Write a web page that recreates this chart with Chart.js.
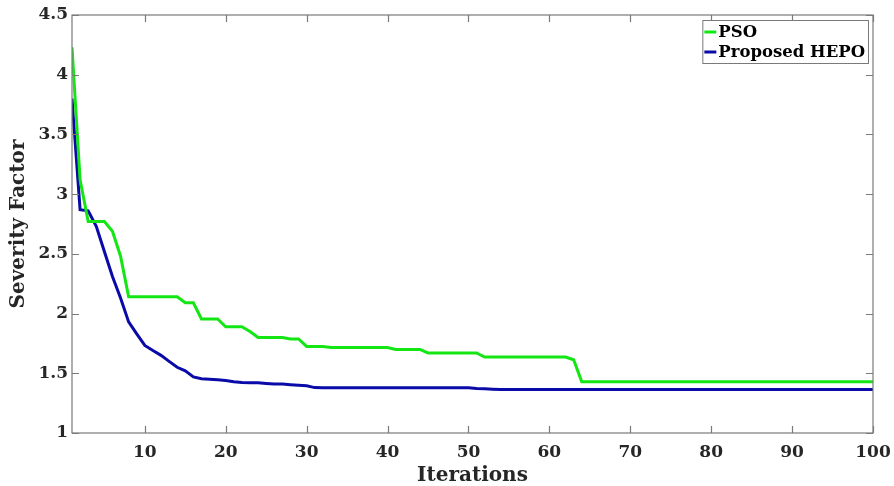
<!DOCTYPE html>
<html>
<head>
<meta charset="utf-8">
<title>Severity Factor vs Iterations</title>
<script src="https://cdn.jsdelivr.net/npm/chart.js@4/dist/chart.umd.min.js"></script>
<style>
  html, body { margin: 0; padding: 0; background: #fff; }
  #chart { display: block; }
</style>
</head>
<body>
<canvas id="chart" width="894" height="486"></canvas>
<script>
// iteration index on the x axis
const iterations = Array.from({ length: 100 }, (_, i) => i + 1);

const psoValues = [
  4.23, 3.12, 2.77, 2.77, 2.77, 2.69, 2.48, 2.14, 2.14, 2.14,
  2.14, 2.14, 2.14, 2.14, 2.09, 2.09, 1.955, 1.955, 1.955, 1.89,
  1.89, 1.89, 1.85, 1.80, 1.80, 1.80, 1.80, 1.787, 1.787, 1.725,
  1.725, 1.725, 1.716, 1.716, 1.716, 1.716, 1.716, 1.716, 1.716, 1.716,
  1.70, 1.70, 1.70, 1.70, 1.67, 1.67, 1.67, 1.67, 1.67, 1.67,
  1.67, 1.636, 1.636, 1.636, 1.636, 1.636, 1.636, 1.636, 1.636, 1.636,
  1.636, 1.636, 1.613, 1.43, 1.43, 1.43, 1.43, 1.43, 1.43, 1.43,
  1.43, 1.43, 1.43, 1.43, 1.43, 1.43, 1.43, 1.43, 1.43, 1.43,
  1.43, 1.43, 1.43, 1.43, 1.43, 1.43, 1.43, 1.43, 1.43, 1.43,
  1.43, 1.43, 1.43, 1.43, 1.43, 1.43, 1.43, 1.43, 1.43, 1.43
];

const hepoValues = [
  3.80, 2.87, 2.86, 2.73, 2.52, 2.31, 2.13, 1.93, 1.83, 1.733,
  1.69, 1.65, 1.60, 1.55, 1.52, 1.47, 1.455, 1.45, 1.445, 1.44,
  1.43, 1.423, 1.42, 1.42, 1.415, 1.41, 1.41, 1.405, 1.40, 1.395,
  1.38, 1.378, 1.378, 1.378, 1.378, 1.378, 1.378, 1.378, 1.378, 1.378,
  1.378, 1.378, 1.378, 1.378, 1.378, 1.378, 1.378, 1.378, 1.378, 1.378,
  1.372, 1.37, 1.367, 1.365, 1.365, 1.365, 1.365, 1.365, 1.365, 1.365,
  1.365, 1.365, 1.365, 1.365, 1.365, 1.365, 1.365, 1.365, 1.365, 1.365,
  1.365, 1.365, 1.365, 1.365, 1.365, 1.365, 1.365, 1.365, 1.365, 1.365,
  1.365, 1.365, 1.365, 1.365, 1.365, 1.365, 1.365, 1.365, 1.365, 1.365,
  1.365, 1.365, 1.365, 1.365, 1.365, 1.365, 1.365, 1.365, 1.365, 1.365
];

const seriesLabels = ['PSO', 'Proposed HEPO'];
const seriesColors = ['#14e614', '#0a0aa8'];

const xTicks = [10, 20, 30, 40, 50, 60, 70, 80, 90, 100];
const yTicks = [1, 1.5, 2, 2.5, 3, 3.5, 4, 4.5];

const FONT = '"DejaVu Serif", serif';
const TEXT_COLOR = '#262626';
const AXIS_COLOR = '#7a7a7a';

function toPoints(values) {
  return iterations.map((it, i) => ({ x: it, y: values[i] }));
}

// box round the axes with inward ticks on all four sides
const axesBox = {
  id: 'axesBox',
  afterDraw(chart) {
    const { ctx, chartArea: a, scales } = chart;
    const len = 7;
    ctx.save();
    ctx.strokeStyle = AXIS_COLOR;
    ctx.lineWidth = 1.2;
    ctx.strokeRect(a.left, a.top, a.right - a.left, a.bottom - a.top);
    ctx.beginPath();
    scales.x.ticks.forEach(t => {
      const px = Math.round(scales.x.getPixelForValue(t.value)) + 0.5;
      ctx.moveTo(px, a.bottom); ctx.lineTo(px, a.bottom - len);
      ctx.moveTo(px, a.top); ctx.lineTo(px, a.top + len);
    });
    scales.y.ticks.forEach(t => {
      const py = Math.round(scales.y.getPixelForValue(t.value)) + 0.5;
      ctx.moveTo(a.left, py); ctx.lineTo(a.left + len, py);
      ctx.moveTo(a.right, py); ctx.lineTo(a.right - len, py);
    });
    ctx.stroke();
    ctx.restore();
  }
};

// legend box in the upper right corner of the axes
const boxLegend = {
  id: 'boxLegend',
  afterDraw(chart) {
    const { ctx, chartArea: a } = chart;
    const sets = chart.data.datasets;
    ctx.save();
    ctx.font = 'bold 16.5px ' + FONT;
    const textW = Math.max(...sets.map(d => ctx.measureText(d.label).width));
    const lineW = 12, padL = 2, gap = 2, padR = 3, rowH = 20;
    const w = padL + lineW + gap + textW + padR;
    const h = rowH * sets.length + 3;
    const x0 = a.right - 5 - w;
    const y0 = a.top + 5;
    ctx.fillStyle = '#fff';
    ctx.fillRect(x0, y0, w, h);
    ctx.strokeStyle = AXIS_COLOR;
    ctx.lineWidth = 1;
    ctx.strokeRect(x0 + 0.5, y0 + 0.5, w, h);
    ctx.textBaseline = 'middle';
    sets.forEach((d, i) => {
      const cy = y0 + 12 + i * rowH;
      ctx.strokeStyle = d.borderColor;
      ctx.lineWidth = 3;
      ctx.beginPath();
      ctx.moveTo(x0 + padL, cy);
      ctx.lineTo(x0 + padL + lineW, cy);
      ctx.stroke();
      ctx.fillStyle = '#000';
      ctx.fillText(d.label, x0 + padL + lineW + gap, cy + 1);
    });
    ctx.restore();
  }
};

new Chart(document.getElementById('chart').getContext('2d'), {
  type: 'line',
  data: {
    datasets: [
      {
        label: seriesLabels[0],
        data: toPoints(psoValues),
        borderColor: seriesColors[0],
        borderWidth: 3,
        pointRadius: 0,
        tension: 0,
        fill: false
      },
      {
        label: seriesLabels[1],
        data: toPoints(hepoValues),
        borderColor: seriesColors[1],
        borderWidth: 3,
        pointRadius: 0,
        tension: 0,
        fill: false
      }
    ]
  },
  options: {
    responsive: false,
    animation: false,
    layout: { padding: { top: 15, right: 21, left: 0, bottom: 0 } },
    plugins: {
      legend: { display: false },
      tooltip: { enabled: false }
    },
    scales: {
      x: {
        type: 'linear',
        min: 1,
        max: 100,
        afterBuildTicks: scale => { scale.ticks = xTicks.map(v => ({ value: v })); },
        afterFit: scale => {
          scale.height = 53;
          scale.paddingLeft = 0;
          scale.paddingRight = 0;
        },
        grid: { display: false, drawTicks: false },
        border: { display: false },
        ticks: {
          padding: 9,
          color: TEXT_COLOR,
          font: { family: FONT, size: 17, weight: 'bold' },
          maxRotation: 0,
          callback: v => String(v)
        },
        title: {
          display: true,
          text: 'Iterations',
          color: TEXT_COLOR,
          font: { family: FONT, size: 20, weight: 'bold', lineHeight: 1 },
          padding: { top: 0, bottom: 0 }
        }
      },
      y: {
        min: 1,
        max: 4.5,
        afterBuildTicks: scale => { scale.ticks = yTicks.map(v => ({ value: v })); },
        afterFit: scale => {
          scale.width = 72;
          scale.paddingTop = 0;
          scale.paddingBottom = 0;
        },
        grid: { display: false, drawTicks: false },
        border: { display: false },
        ticks: {
          padding: 4,
          color: TEXT_COLOR,
          font: { family: FONT, size: 17, weight: 'bold' },
          callback: v => String(v)
        },
        title: {
          display: true,
          text: 'Severity Factor',
          color: TEXT_COLOR,
          font: { family: FONT, size: 20, weight: 'bold', lineHeight: 1 },
          padding: { top: 9, bottom: 0 }
        }
      }
    }
  },
  plugins: [axesBox, boxLegend]
});
</script>
</body>
</html>
